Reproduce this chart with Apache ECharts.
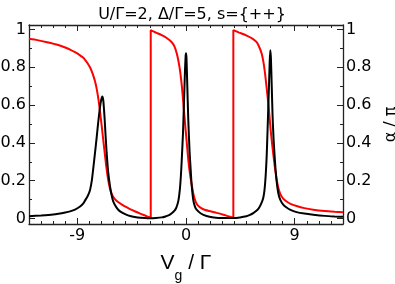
<!DOCTYPE html>
<html>
<head>
<meta charset="utf-8">
<script src="https://cdn.jsdelivr.net/npm/echarts@6/dist/echarts.min.js"></script>
<style>
html,body{margin:0;padding:0;background:#fff;}
#c{width:395px;height:284px;}
</style>
</head>
<body>
<div id="c"></div>
<script>
// ---- data ----
var titleText = 'U/\u0393=2, \u0394/\u0393=5, s={++}';
var xMajorTicks = [-9, 0, 9];
var xMinorTicks = [-12,-11,-10,-8,-7,-6,-5,-4,-3,-2,-1,1,2,3,4,5,6,7,8,10,11,12];
var yMajorTicks = [0, 0.2, 0.4, 0.6, 0.8, 1];
var yMinorTicks = [0.1, 0.3, 0.5, 0.7, 0.9];

// black curve (transmission), [Vg/Γ, value]
var transmission = [
  [-13,0.012],[-12,0.016],[-11,0.021],[-10.57,0.025],[-10,0.032],[-9.6,0.038],[-9.19,0.047],
  [-8.8,0.062],[-8.5,0.08],[-8.36,0.095],[-8.15,0.118],[-7.95,0.15],[-7.8,0.2],[-7.67,0.27],
  [-7.53,0.35],[-7.39,0.433],[-7.25,0.52],[-7.12,0.59],[-7.02,0.628],[-6.93,0.645],
  [-6.85,0.625],[-6.75,0.54],[-6.66,0.44],[-6.57,0.347],[-6.45,0.25],[-6.29,0.17],
  [-6.15,0.12],[-6.02,0.09],[-5.75,0.058],[-5.46,0.038],[-5.0,0.022],[-4.64,0.013],
  [-4.0,0.006],[-3.4,0.003],[-2.98,0.002],[-2.5,0.003],[-2.0,0.006],[-1.7,0.011],
  [-1.4,0.018],[-1.18,0.028],[-0.95,0.042],[-0.8,0.058],[-0.63,0.095],[-0.5,0.16],
  [-0.42,0.23],[-0.36,0.3],[-0.25,0.45],[-0.17,0.61],[-0.08,0.79],[-0.03,0.86],[0,0.875],
  [0.04,0.85],[0.1,0.72],[0.19,0.52],[0.3,0.35],[0.39,0.255],[0.47,0.175],[0.61,0.095],
  [0.75,0.062],[0.88,0.047],[1.2,0.028],[1.7,0.013],[2.3,0.006],[3.0,0.003],[3.9,0.003],
  [4.47,0.006],[5.0,0.012],[5.3,0.019],[5.6,0.03],[5.9,0.045],[6.1,0.062],[6.27,0.085],
  [6.4,0.11],[6.5,0.15],[6.6,0.23],[6.68,0.33],[6.75,0.46],[6.82,0.6],[6.88,0.72],
  [6.93,0.83],[6.98,0.89],[7.03,0.85],[7.1,0.7],[7.17,0.54],[7.26,0.41],[7.37,0.3],
  [7.5,0.2],[7.64,0.135],[7.8,0.1],[8.05,0.074],[8.33,0.058],[8.61,0.047],[9.16,0.034],
  [9.8,0.026],[10.54,0.02],[11.5,0.014],[12.3,0.011],[13,0.009]
];

// red curve (phase α/π), [Vg/Γ, value]
var phase = [
  [-13,0.951],[-12.3,0.944],[-11.5,0.933],[-10.57,0.918],[-10,0.905],[-9.6,0.894],
  [-9.19,0.88],[-8.8,0.865],[-8.55,0.853],[-8.36,0.84],[-8.15,0.822],[-7.95,0.8],
  [-7.81,0.78],[-7.67,0.755],[-7.53,0.725],[-7.39,0.685],[-7.25,0.63],[-7.12,0.565],
  [-6.98,0.49],[-6.85,0.415],[-6.71,0.335],[-6.57,0.26],[-6.43,0.2],[-6.29,0.158],
  [-6.15,0.13],[-6.0,0.112],[-5.8,0.097],[-5.5,0.082],[-5.1,0.065],[-4.64,0.05],
  [-4.2,0.037],[-3.8,0.026],[-3.4,0.016],[-2.92,0.004],
  [-2.92,0.997],[-2.5,0.984],[-2.01,0.97],[-1.6,0.955],[-1.18,0.933],[-0.95,0.91],
  [-0.77,0.875],[-0.63,0.835],[-0.5,0.785],[-0.35,0.705],[-0.22,0.61],[-0.12,0.535],
  [-0.03,0.468],[0.08,0.39],[0.19,0.31],[0.33,0.235],[0.47,0.18],[0.61,0.13],
  [0.75,0.098],[0.88,0.078],[1.1,0.062],[1.43,0.049],[1.9,0.04],[2.54,0.03],
  [3.1,0.02],[3.5,0.012],[3.92,0.004],
  [3.92,0.997],[4.4,0.984],[5.02,0.968],[5.5,0.952],[5.85,0.933],[6.08,0.905],
  [6.27,0.872],[6.42,0.825],[6.54,0.77],[6.68,0.69],[6.82,0.605],[6.92,0.535],
  [7.01,0.468],[7.12,0.4],[7.23,0.34],[7.37,0.265],[7.51,0.205],[7.65,0.16],
  [7.78,0.135],[7.92,0.117],[8.1,0.102],[8.33,0.09],[8.61,0.079],[9.16,0.066],
  [9.8,0.055],[10.54,0.047],[11.5,0.04],[12.3,0.036],[13,0.033]
];

var FONT = '"DejaVu Sans", sans-serif';
var AXC = '#222';

function xAx(pos, ticks, len, showLine, showLabel, extra) {
  var o = {
    type: 'value', position: pos, min: -13, max: 13,
    axisLine: {show: showLine, onZero: false, lineStyle: {color: AXC, width: 1.3}},
    axisTick: {show: true, inside: true, length: len, customValues: ticks, lineStyle: {color: AXC, width: 1}},
    axisLabel: {show: showLabel, customValues: ticks, margin: 4, color: '#000', fontSize: 16, fontFamily: FONT},
    splitLine: {show: false}
  };
  if (extra) for (var k in extra) o[k] = extra[k];
  return o;
}
function yAx(pos, ticks, len, showLine, showLabel, extra) {
  var o = {
    type: 'value', position: pos, min: -0.029, max: 1.024,
    axisLine: {show: showLine, onZero: false, lineStyle: {color: AXC, width: 1.3}},
    axisTick: {show: true, inside: true, length: len, customValues: ticks, lineStyle: {color: AXC, width: 1}},
    axisLabel: {show: showLabel, customValues: ticks, margin: 3, color: '#000', fontSize: 16, fontFamily: FONT},
    splitLine: {show: false}
  };
  if (extra) for (var k in extra) o[k] = extra[k];
  return o;
}

var chart = echarts.init(document.getElementById('c'), null, {renderer: 'canvas'});
chart.setOption({
  animation: false,
  backgroundColor: '#fff',
  title: {
    text: titleText, left: 187, top: 2, textAlign: 'center',
    textStyle: {fontSize: 16, fontWeight: 'normal', color: '#000', fontFamily: FONT}
  },
  grid: {left: 29, right: 52, top: 25, bottom: 60, outerBoundsMode: 'none', containLabel: false},
  xAxis: [
    xAx('bottom', xMajorTicks, 6, true, true, {
      name: '{v|V}{g|g}{v| / \u0393}', nameLocation: 'middle', nameGap: 29,
      nameTextStyle: {rich: {
        v: {fontSize: 21, fontFamily: '"Liberation Sans", Arial, sans-serif', color: '#000'},
        g: {fontSize: 14, fontFamily: '"Liberation Sans", Arial, sans-serif', color: '#000', verticalAlign: 'bottom', padding: [0,0,-9,0]}
      }}
    }),
    xAx('bottom', xMinorTicks, 3, false, false),
    xAx('top', xMajorTicks, 6, true, false),
    xAx('top', xMinorTicks, 3, false, false)
  ],
  yAxis: [
    yAx('left', yMajorTicks, 6, true, true),
    yAx('left', yMinorTicks, 3, false, false),
    yAx('right', yMajorTicks, 6, true, true, {
      name: '\u03b1 / \u03c0', nameLocation: 'middle', nameGap: 36, nameRotate: 90,
      nameTextStyle: {fontSize: 16, fontFamily: FONT, color: '#000'}
    }),
    yAx('right', yMinorTicks, 3, false, false)
  ],
  series: [
    {type: 'line', xAxisIndex: 0, yAxisIndex: 0, data: phase, showSymbol: false, smooth: 0.2,
     lineStyle: {color: '#ff0000', width: 2}, z: 2},
    {type: 'line', xAxisIndex: 0, yAxisIndex: 0, data: transmission, showSymbol: false, smooth: 0.2,
     lineStyle: {color: '#000', width: 2}, z: 3}
  ]
});
</script>
</body>
</html>
